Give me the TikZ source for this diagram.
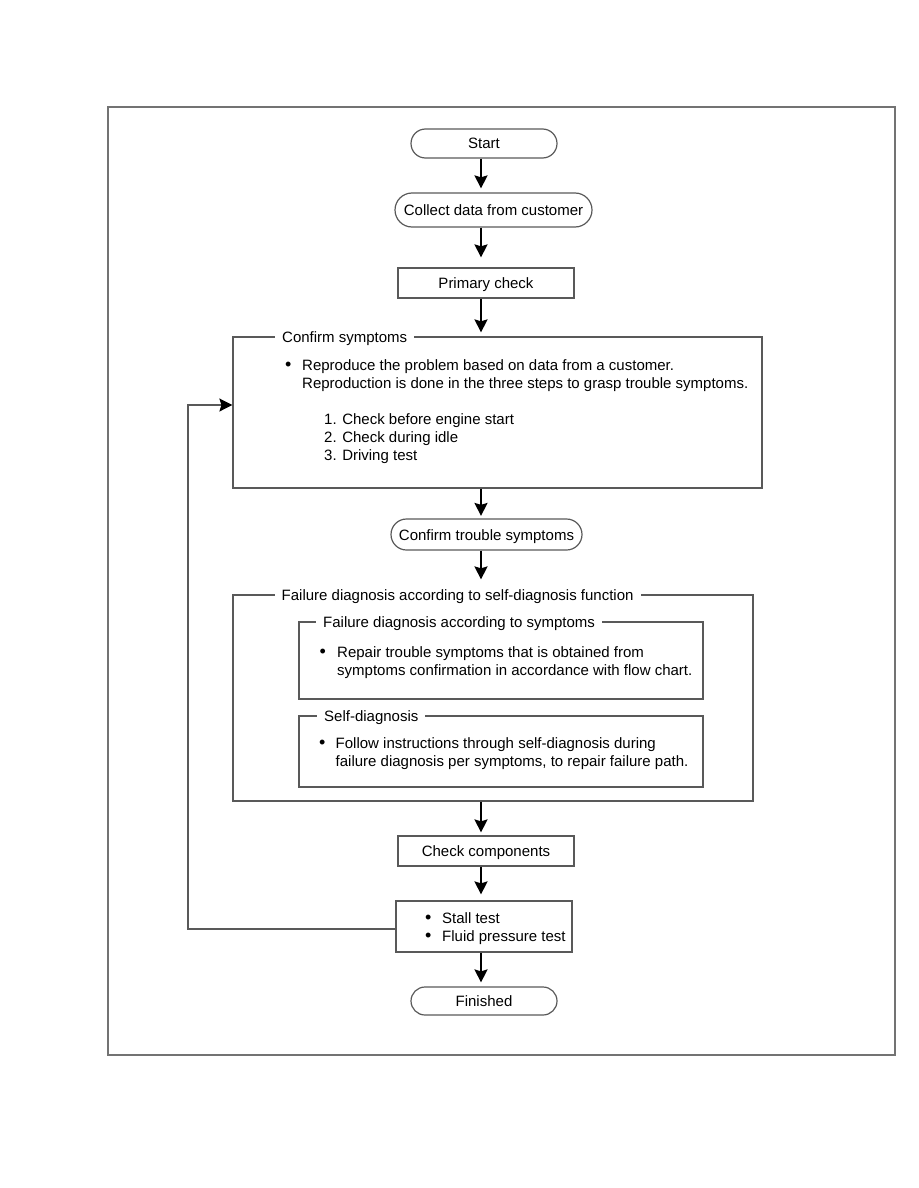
\documentclass[tikz,border=0pt]{standalone}
\usepackage{fontspec}
\setmainfont{Liberation Sans}
\usetikzlibrary{arrows.meta}
\newcommand{\bulletmark}[1]{\makebox[#1][l]{\fontsize{18}{18}\selectfont •}}

\begin{document}
\begin{tikzpicture}[x=1pt,y=-1pt,
    every node/.style={font=\fontsize{15}{18}\selectfont},
    termbox/.style 2 args={draw=black!65,line width=1.2pt,inner sep=0pt,
      minimum width=#1,minimum height=#2,rounded corners=#2/2,
      text height=11pt,text depth=0pt},
    procbox/.style={draw=black!65,line width=1.2pt,minimum width=176pt,
      minimum height=30pt,text height=11pt,text depth=0pt},
    groupbox/.style={draw=black!65,line width=1.2pt,inner sep=0pt},
    headtext/.style={fill=white,anchor=base west,inner xsep=7pt,inner ysep=1pt,
      text height=11pt,text depth=3pt},
    bodytext/.style={anchor=north west,inner sep=0pt,align=left},
    flow/.style={line width=2.2pt,-{Stealth[length=13pt,width=13pt,inset=2pt]}},
    backline/.style={draw=black!65,line width=1.2pt,
      -{Stealth[length=13pt,width=13pt,inset=2pt,color=black]}}]
    \useasboundingbox (0,0) rectangle (918,1188);
    \draw[draw=black!55,line width=2pt] (107.5,107.5) rectangle (894.5,1054.5);
    \coordinate (axis) at (481,0);
    \coordinate (loop) at (188,405);
    % main column
    \node (start) at (484,143.5) [termbox={146pt}{29pt}] {Start};
    \node (collect) at (493.5,210) [termbox={197pt}{34pt}] {Collect data from customer};
    \node (primary) at (486,283) [procbox] {Primary check};
    \node (confirm) at (497.5,412.5) [groupbox,minimum width=529pt,minimum height=151pt] {};
    \node (confirmhead) at (275,342) [headtext] {Confirm symptoms};
    \node (confirmtxt) at (285,358.7) [bodytext] {\rule{0pt}{12pt}\bulletmark{17pt}Reproduce the problem based on data from a customer.\\
      \hspace*{17pt}Reproduction is done in the three steps to grasp trouble symptoms.};
    \node (steps) at (324,412) [bodytext] {\rule{0pt}{12pt}1. Check before engine start\\2. Check during idle\\3. Driving test};
    \node (trouble) at (486.5,534.5) [termbox={191pt}{31pt}] {Confirm trouble symptoms};
    % self-diagnosis group
    \node (diag) at (493,698) [groupbox,minimum width=520pt,minimum height=206pt] {};
    \node (diaghead) at (274.5,600) [headtext] {Failure diagnosis according to self-diagnosis function};
    \node (bysym) at (501,660.5) [groupbox,minimum width=404pt,minimum height=77pt] {};
    \node (bysymhead) at (316,627) [headtext] {Failure diagnosis according to symptoms};
    \node (bysymtxt) at (319.5,645) [bodytext] {\rule{0pt}{12pt}\bulletmark{17.5pt}Repair trouble symptoms that is obtained from\\
      \hspace*{17.5pt}symptoms confirmation in accordance with flow chart.};
    \node (selfdiag) at (501,751.5) [groupbox,minimum width=404pt,minimum height=71pt] {};
    \node (selfdiaghead) at (317,721) [headtext] {Self-diagnosis};
    \node (selfdiagtxt) at (319,736) [bodytext] {\rule{0pt}{12pt}\bulletmark{16.5pt}Follow instructions through self-diagnosis during\\
      \hspace*{16.5pt}failure diagnosis per symptoms, to repair failure path.};
    \node (check) at (486,851) [procbox] {Check components};
    \node (stall) at (484,926.5) [procbox,minimum height=51pt] {};
    \node (stalltxt) at (425,911) [bodytext] {\rule{0pt}{12pt}\bulletmark{17pt}Stall test\\\bulletmark{17pt}Fluid pressure test};
    \node (finished) at (484,1001) [termbox={146pt}{28pt}] {Finished};
    % arrows
    \draw[flow,shorten >=4pt] (start.south -| axis) -- (collect.north -| axis);
    \draw[flow,shorten >=10pt] (collect.south -| axis) -- (primary.north -| axis);
    \draw[flow,shorten >=4pt] (primary.south -| axis) -- (confirm.north -| axis);
    \draw[flow,shorten >=2.5pt] (confirm.south -| axis) -- (trouble.north -| axis);
    \draw[flow,shorten >=15pt] (trouble.south -| axis) -- (diag.north -| axis);
    \draw[flow,shorten >=3pt] (diag.south -| axis) -- (check.north -| axis);
    \draw[flow,shorten >=6pt] (check.south -| axis) -- (stall.north -| axis);
    \draw[flow,shorten >=4pt] (stall.south -| axis) -- (finished.north -| axis);
    \draw[backline] ([yshift=-2.5pt]stall.west) -| (loop) -- (loop -| confirm.west);
\end{tikzpicture}
\end{document}
